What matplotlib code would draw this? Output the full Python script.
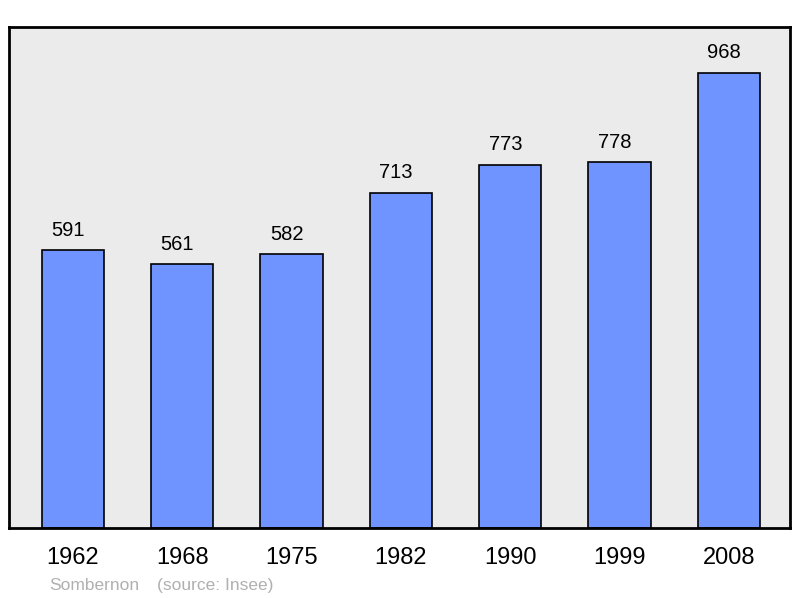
import matplotlib
matplotlib.use('Agg')
import matplotlib.pyplot as plt

plt.rcParams['font.family'] = ['Liberation Sans', 'DejaVu Sans']

years = ['1962', '1968', '1975', '1982', '1990', '1999', '2008']
population = [591, 561, 582, 713, 773, 778, 968]

fig = plt.figure(figsize=(8, 5.98), dpi=100)
ax = fig.add_axes([9 / 800, 70 / 598, 781 / 800, 501 / 598])
ax.set_facecolor('#ebebeb')

x = list(range(len(years)))
ax.bar(x, population, width=0.57, color='#7094ff', edgecolor='black', linewidth=1.2)
for xi, v in zip(x, population):
    ax.annotate(str(v), (xi, v), xytext=(-3.5, 10.5), textcoords='offset points',
                ha='center', va='baseline', fontsize=14.5)

ax.set_xlim(-0.585, 6.56)
ax.set_ylim(0, 1066)
ax.set_yticks([])
ax.set_xticks(x)
ax.set_xticklabels(years, fontsize=17)
ax.tick_params(axis='x', length=0, pad=13.5)
for s in ax.spines.values():
    s.set_linewidth(2)

fig.text(49 / 800, 1 - 590 / 598, 'Sombernon', color='#b0b0b0', fontsize=12.5, va='baseline')
fig.text(157 / 800, 1 - 590 / 598, '(source: Insee)', color='#b0b0b0', fontsize=12.5, va='baseline')

fig.savefig('out.png', dpi=100)
